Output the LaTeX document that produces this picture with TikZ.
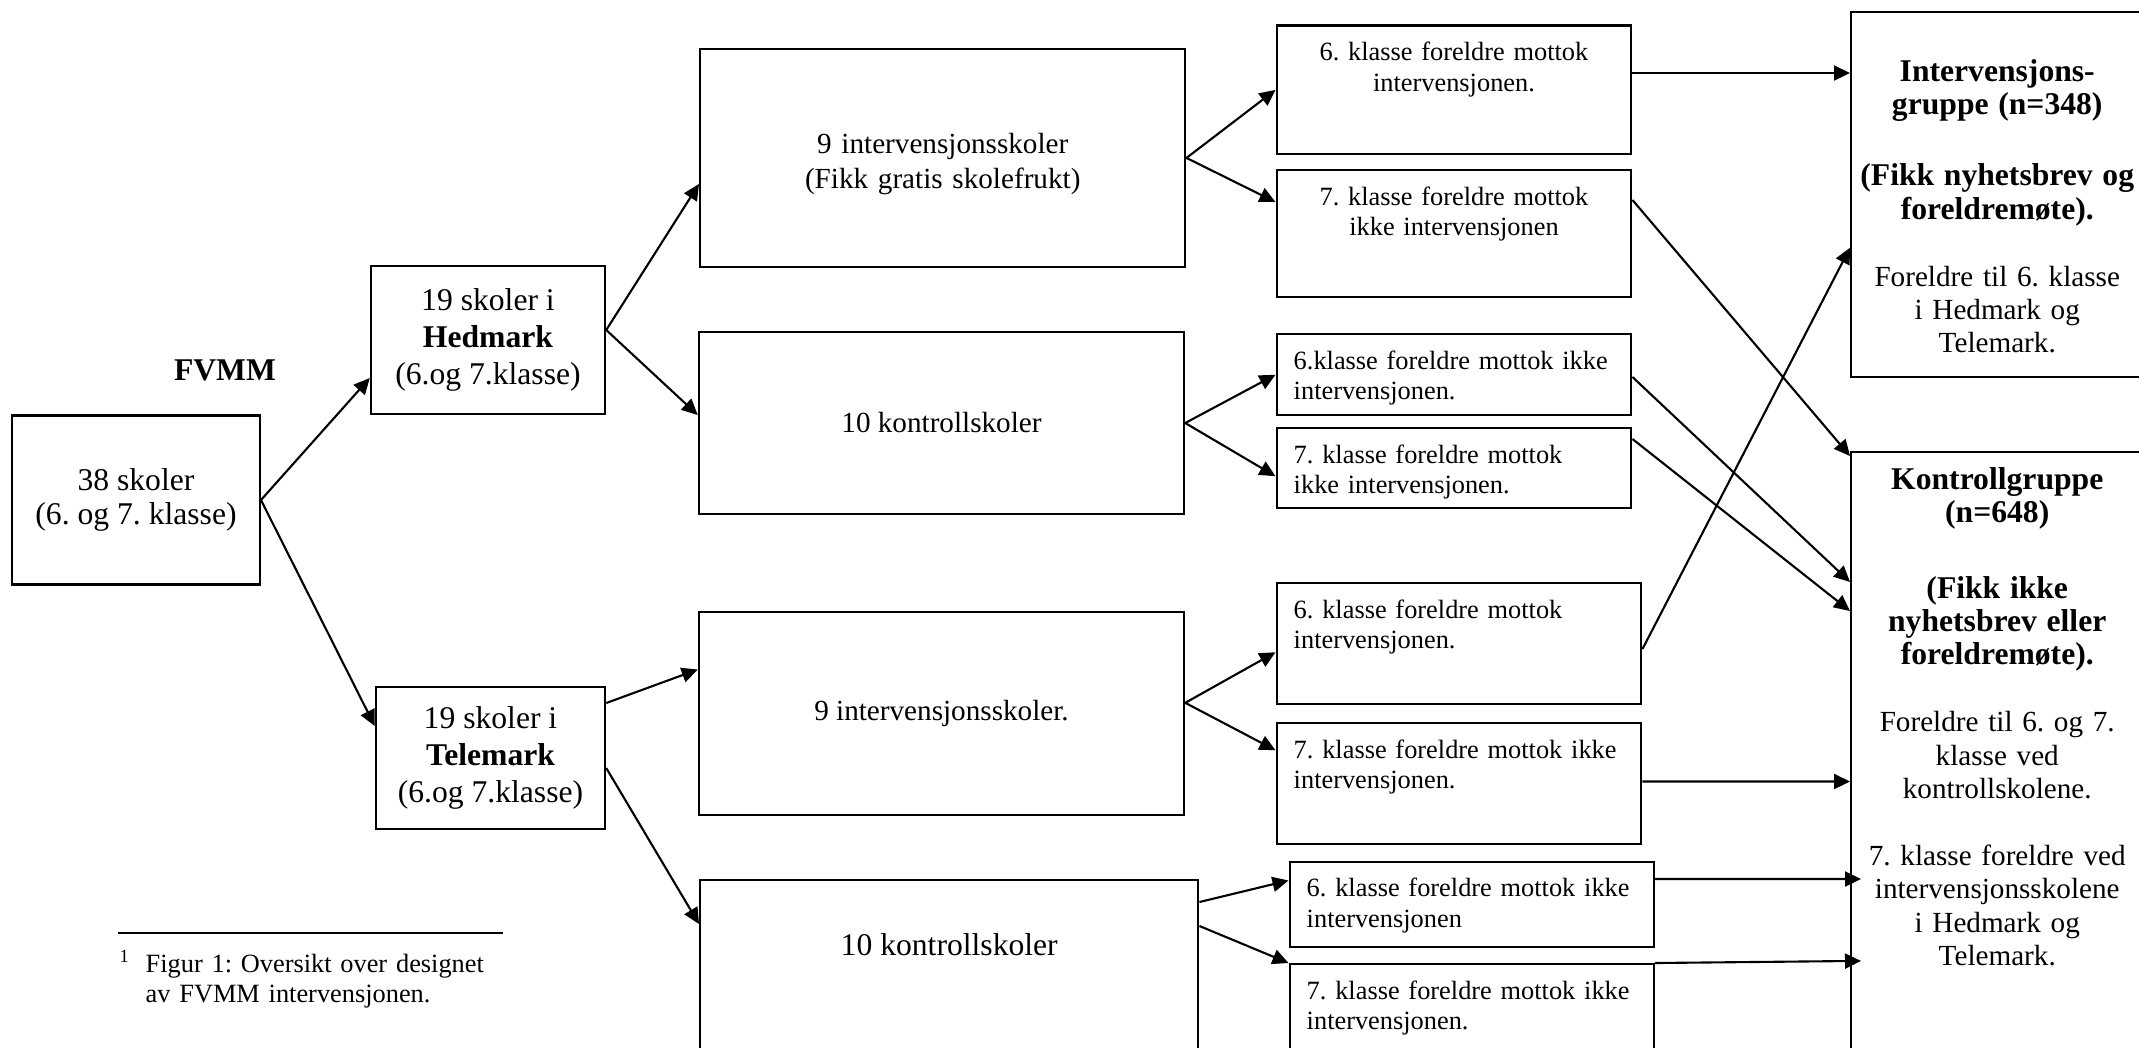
\documentclass[tikz,border=0pt]{standalone}
\usepackage{fontspec}
\setmainfont{Liberation Serif}
\usetikzlibrary{arrows.meta,positioning}
\newcommand{\grouphead}{\fontsize{9}{9.5}\selectfont\bfseries}
\frenchspacing

\begin{document}
\begin{tikzpicture}[
  font=\fontsize{9}{10.6}\selectfont,
  box/.style={draw, line width=0.7pt, align=center, inner sep=0pt},
  mbox/.style={box, font=\fontsize{8.3}{9.7}\selectfont},
  sbox/.style={draw, line width=0.7pt, inner xsep=0.17cm, inner ysep=0pt,
               anchor=north west, text height=0.35cm,
               font=\fontsize{7.5}{8.7}\selectfont},
  gbox/.style={draw, line width=0.7pt, anchor=north west, align=center,
               inner sep=0pt, text width=2.92cm,
               font=\fontsize{8.3}{9.5}\selectfont},
  arrow/.style={-{Triangle[length=0.16cm, width=0.15cm]}, line width=0.6pt}
]
  \useasboundingbox (0,0) rectangle (21.39,-10.47);

  \node[box, minimum width=2.475cm, minimum height=1.69cm,
        font=\fontsize{9}{9.8}\selectfont] (root) at (1.36,-5.0) {38 skoler\\(6. og 7. klasse)};
  \node[font=\fontsize{9}{10.6}\selectfont\bfseries] (fvmm) at (2.25,-3.705) {FVMM};
  \node[box, minimum width=2.34cm, minimum height=1.48cm] (hed) at (4.88,-3.40) {19 skoler i\\\textbf{Hedmark}\\(6.og 7.klasse)};
  \node[box, minimum width=2.29cm, minimum height=1.42cm] (tel) at (4.905,-7.58) {19 skoler i\\\textbf{Telemark}\\(6.og 7.klasse)};

  \node[mbox, anchor=north west, text width=4.85cm, text height=1.05cm,
        text depth=1.13cm] (hi) at (6.99,-0.477) {9 intervensjonsskoler\\(Fikk gratis skolefrukt)};
  \node[mbox, minimum width=4.85cm, minimum height=1.82cm] (hk) at (9.415,-4.23) {10 kontrollskoler};
  \node[mbox, minimum width=4.85cm, minimum height=2.03cm] (ti) at (9.415,-7.135) {9 intervensjonsskoler.};
  \node[box, minimum width=4.98cm, anchor=north west, text height=0.76cm,
        text depth=1.4cm] (tk) at (6.99,-8.785) {10 kontrollskoler};

  \node[sbox, text width=3.205cm, align=center, text depth=0.937cm] (hi6) at (12.755,-0.243) {6. klasse foreldre mottok\\intervensjonen.};
  \node[sbox, text width=3.205cm, align=center, text depth=0.92cm] (hi7) at (12.755,-1.69) {7. klasse foreldre mottok\\ikke intervensjonen};
  \node[sbox, text width=3.205cm, align=left, text depth=0.46cm] (hk6) at (12.755,-3.33) {6.klasse foreldre mottok ikke\\intervensjonen.};
  \node[sbox, text width=3.205cm, align=left, text depth=0.45cm] (hk7) at (12.755,-4.27) {7. klasse foreldre mottok\\ikke intervensjonen.};
  \node[sbox, text width=3.305cm, align=left, text depth=0.86cm] (ti6) at (12.755,-5.82) {6. klasse foreldre mottok\\intervensjonen.};
  \node[sbox, text width=3.305cm, align=left, text depth=0.86cm] (ti7) at (12.755,-7.22) {7. klasse foreldre mottok ikke\\intervensjonen.};
  \node[sbox, text width=3.30cm, align=left, text depth=0.505cm] (tk6) at (12.885,-8.605) {6. klasse foreldre mottok ikke\\intervensjonen};
  \node[sbox, text width=3.30cm, align=left, text depth=1.2cm] (tk7) at (12.885,-9.63) {7. klasse foreldre mottok ikke\\intervensjonen.};

  \node[gbox, text height=0.693cm, text depth=2.96cm] (ig) at (18.50,-0.107)
    {{\grouphead Intervensjons-}\\{\grouphead gruppe (n=348)}\\[0.378cm]
     {\grouphead (Fikk nyhetsbrev og}\\{\grouphead foreldremøte).}\\[0.335cm]
     Foreldre til 6. klasse\\i Hedmark og\\Telemark.};
  \node[gbox, text height=0.37cm, text depth=6.3cm] (kg) at (18.50,-4.51)
    {{\grouphead Kontrollgruppe}\\{\grouphead (n=648)}\\[0.42cm]
     {\grouphead (Fikk ikke}\\{\grouphead nyhetsbrev eller}\\{\grouphead foreldremøte).}\\[0.335cm]
     Foreldre til 6. og 7.\\klasse ved\\kontrollskolene.\\[0.335cm]
     7. klasse foreldre ved\\intervensjonsskolene\\i Hedmark og\\Telemark.};

  % footnote
  \coordinate (ruleL) at (1.18,-9.33);
  \coordinate (ruleR) at (5.03,-9.33);
  \draw[line width=0.8pt] (ruleL) -- (ruleR);
  \node[anchor=north west, align=left, inner sep=0pt, text width=4.2cm,
        text height=0.25cm, font=\fontsize{7.5}{8.6}\selectfont] (note) at (1.19,-9.47)
    {\textsuperscript{1}\hspace{0.15cm}Figur 1: Oversikt over designet\\\hspace*{0.26cm}av FVMM intervensjonen.};

  \draw[arrow] (root.east) -- ([yshift=-0.38cm]hed.west);
  \draw[arrow] (root.east) -- ([yshift=0.32cm]tel.west);
  \draw[arrow] ([yshift=0.1cm]hed.east) -- ([yshift=-0.26cm]hi.west);
  \draw[arrow] ([yshift=0.1cm]hed.east) -- ([yshift=0.08cm]hk.west);
  \draw[arrow] ([yshift=0.55cm]tel.east) -- ([yshift=0.44cm]ti.west);
  \draw[arrow] ([yshift=-0.10cm]tel.east) -- ([yshift=-0.455cm]tk.north west);

  \draw[arrow] (hi.east) -- (hi6.west);
  \draw[arrow] (hi.east) -- ([yshift=0.317cm]hi7.west);
  \draw[arrow] (hk.east) -- (hk6.west);
  \draw[arrow] (hk.east) -- ([yshift=-0.08cm]hk7.west);
  \draw[arrow] ([yshift=0.107cm]ti.east) -- ([yshift=-0.085cm]ti6.west);
  \draw[arrow] ([yshift=0.107cm]ti.east) -- ([yshift=0.335cm]ti7.west);
  \draw[arrow] ([yshift=-0.235cm]tk.north east) -- ([yshift=0.24cm]tk6.west);
  \draw[arrow] ([yshift=-0.475cm]tk.north east) -- (tk7.north west);

  \draw[arrow] ([yshift=-0.487cm]hi6.north east) -- ([yshift=-0.623cm]ig.north west);
  \draw[arrow] ([yshift=-0.31cm]hi7.north east) -- ([yshift=-0.05cm]kg.north west);
  \draw[arrow] ([yshift=-0.44cm]hk6.north east) -- ([yshift=-1.31cm]kg.north west);
  \draw[arrow] ([yshift=-0.12cm]hk7.north east) -- ([yshift=-1.60cm]kg.north west);
  \draw[arrow] ([yshift=-0.67cm]ti6.north east) -- ([yshift=-2.37cm]ig.north west);
  \draw[arrow] ([yshift=-0.595cm]ti7.north east) -- ([yshift=-3.305cm]kg.north west);
  \draw[arrow, shorten >=-0.11cm] ([yshift=-0.185cm]tk6.north east) -- ([yshift=-4.28cm]kg.north west);
  \draw[arrow, shorten >=-0.11cm] (tk7.north east) -- ([yshift=-5.10cm]kg.north west);
\end{tikzpicture}
\end{document}
